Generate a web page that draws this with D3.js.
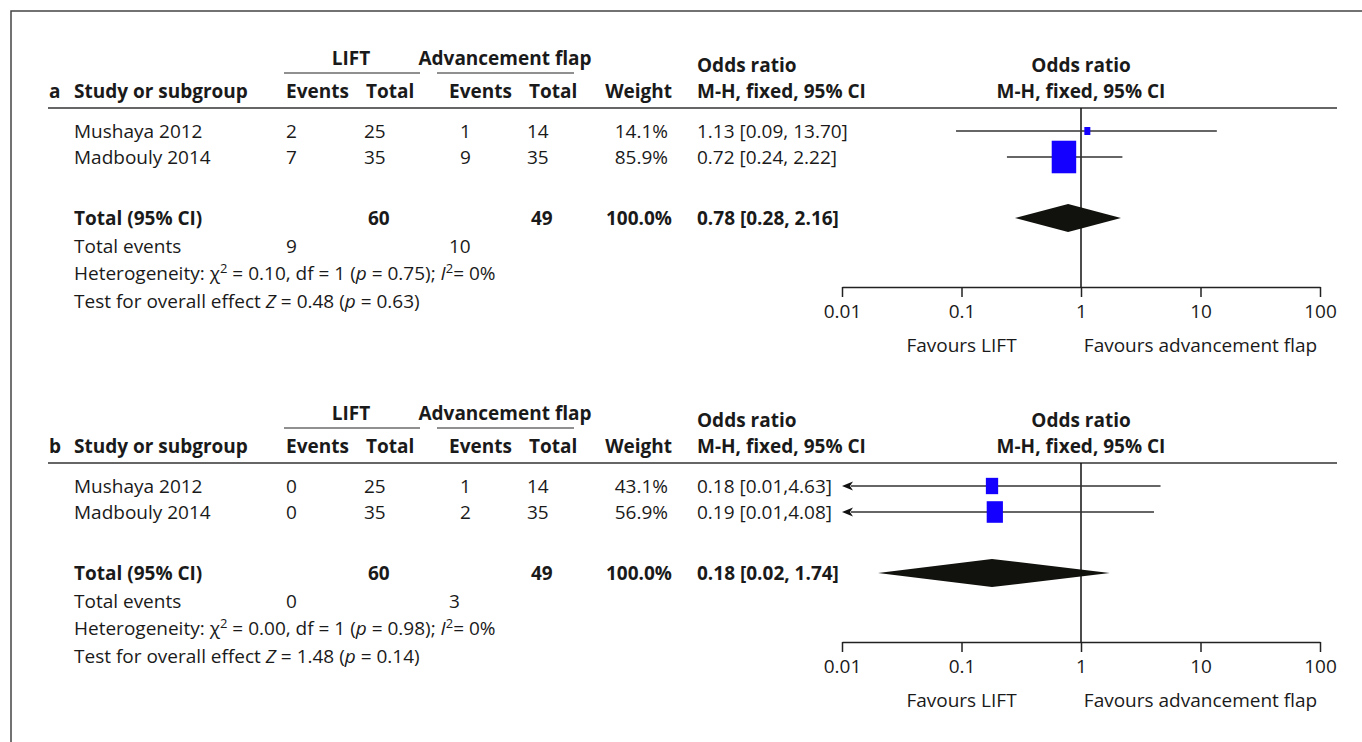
<!DOCTYPE html>
<html>
<head>
<meta charset="utf-8">
<script src="https://cdn.jsdelivr.net/npm/d3@7"></script>
<style>
  body { margin: 0; background: #fff; }
  svg { display: block; font-family: "Open Sans", sans-serif; }
  text { fill: #1a1a1a; }
</style>
</head>
<body>
<svg id="chart" width="1362" height="742"></svg>
<script>
// data
const panels = ["a", "b"];
const studies = ["Mushaya 2012", "Madbouly 2014"];

const liftEventsA = [2, 7];
const liftTotalA = [25, 35];
const flapEventsA = [1, 9];
const flapTotalA = [14, 35];
const weightA = [14.1, 85.9];
const orA = [1.13, 0.72];
const lowerA = [0.09, 0.24];
const upperA = [13.70, 2.22];
const ciLabelA = ["1.13 [0.09, 13.70]", "0.72 [0.24, 2.22]"];

const liftEventsB = [0, 0];
const liftTotalB = [25, 35];
const flapEventsB = [1, 2];
const flapTotalB = [14, 35];
const weightB = [43.1, 56.9];
const orB = [0.18, 0.19];
const lowerB = [0.01, 0.01];
const upperB = [4.63, 4.08];
const ciLabelB = ["0.18 [0.01,4.63]", "0.19 [0.01,4.08]"];

const totalLift = [60, 60];
const totalFlap = [49, 49];
const totalOR = [0.78, 0.18];
const totalLower = [0.28, 0.02];
const totalUpper = [2.16, 1.74];
const totalLabel = ["0.78 [0.28, 2.16]", "0.18 [0.02, 1.74]"];
const totalEventsLift = [9, 0];
const totalEventsFlap = [10, 3];
const chi2 = ["0.10", "0.00"];
const hetP = ["0.75", "0.98"];
const zValue = ["0.48", "1.48"];
const zP = ["0.63", "0.14"];

const axisTicks = [0.01, 0.1, 1, 10, 100];

const svg = d3.select("#chart");
const FS = 19;

// frame
svg.append("path")
  .attr("d", "M11,742 V11 H1362")
  .attr("fill", "none")
  .attr("stroke", "#444")
  .attr("stroke-width", 1.5);

const x = d3.scaleLog().domain([0.01, 100]).range([842, 1320]);
const boxW = d3.scaleLinear().domain([0, 100]).range([0, 28.5]);

const panelData = [
  { liftEv: liftEventsA, liftTot: liftTotalA, flapEv: flapEventsA, flapTot: flapTotalA,
    weight: weightA, or: orA, lo: lowerA, hi: upperA, label: ciLabelA },
  { liftEv: liftEventsB, liftTot: liftTotalB, flapEv: flapEventsB, flapTot: flapTotalB,
    weight: weightB, or: orB, lo: lowerB, hi: upperB, label: ciLabelB }
];

function txt(g, s, tx, ty, opts) {
  opts = opts || {};
  return g.append("text")
    .attr("x", tx).attr("y", ty)
    .attr("dy", "0.35em")
    .attr("font-size", opts.size || FS)
    .attr("font-weight", opts.bold ? "bold" : null)
    .attr("text-anchor", opts.anchor || "start")
    .text(s);
}

// superscript helper, shifts in px so the baseline comes back exactly
function sup(t, s) {
  t.append("tspan").attr("font-size", 13).attr("dy", -7).text(s);
  return t.append("tspan").attr("dy", 7);
}

panels.forEach((letter, pi) => {
  const d = panelData[pi];
  const g = svg.append("g").attr("transform", `translate(0,${pi * 355})`);

  // header
  txt(g, "LIFT", 351, 58, { bold: true, anchor: "middle" });
  txt(g, "Advancement flap", 505, 58, { bold: true, anchor: "middle" });
  g.append("line").attr("x1", 284).attr("x2", 420).attr("y1", 73).attr("y2", 73)
    .attr("stroke", "#222").attr("stroke-width", 1.2);
  g.append("line").attr("x1", 437).attr("x2", 574).attr("y1", 73).attr("y2", 73)
    .attr("stroke", "#222").attr("stroke-width", 1.2);
  txt(g, letter, 49, 91, { bold: true });
  txt(g, "Study or subgroup", 74, 91, { bold: true });
  txt(g, "Events", 286, 91, { bold: true });
  txt(g, "Total", 366, 91, { bold: true });
  txt(g, "Events", 449, 91, { bold: true });
  txt(g, "Total", 529, 91, { bold: true });
  txt(g, "Weight", 672, 91, { bold: true, anchor: "end" });
  txt(g, "Odds ratio", 697, 65.5, { bold: true });
  txt(g, "M-H, fixed, 95% CI", 697, 91.5, { bold: true });
  txt(g, "Odds ratio", x(1), 65.5, { bold: true, anchor: "middle" });
  txt(g, "M-H, fixed, 95% CI", x(1), 91.5, { bold: true, anchor: "middle" });
  g.append("line").attr("x1", 48).attr("x2", 1337).attr("y1", 108).attr("y2", 108)
    .attr("stroke", "#333").attr("stroke-width", 1.5);

  // study rows
  const rowY = d3.scalePoint().domain(studies).range([131, 157]);
  studies.forEach((s, i) => {
    const y = rowY(s);
    txt(g, s, 74, y);
    txt(g, d.liftEv[i], 286, y);
    txt(g, d.liftTot[i], 364, y);
    txt(g, d.flapEv[i], 460, y);
    txt(g, d.flapTot[i], 527, y);
    txt(g, d.weight[i].toFixed(1) + "%", 668, y, { anchor: "end" });
    txt(g, d.label[i], 697, y);
  });

  // totals and stats
  txt(g, "Total (95% CI)", 74, 218, { bold: true });
  txt(g, totalLift[pi], 368, 218, { bold: true });
  txt(g, totalFlap[pi], 531, 218, { bold: true });
  txt(g, "100.0%", 672, 218, { bold: true, anchor: "end" });
  txt(g, totalLabel[pi], 697, 218, { bold: true });
  txt(g, "Total events", 74, 246);
  txt(g, totalEventsLift[pi], 286, 246);
  txt(g, totalEventsFlap[pi], 449, 246);

  const het = txt(g, "", 74, 273);
  het.append("tspan").text("Heterogeneity: \u03c7");
  sup(het, "2").text(` = ${chi2[pi]}, df = 1 (`);
  het.append("tspan").attr("font-style", "italic").text("p");
  het.append("tspan").text(` = ${hetP[pi]}); `);
  het.append("tspan").attr("font-style", "italic").text("I");
  sup(het, "2").text("= 0%");

  const test = txt(g, "", 74, 301);
  test.append("tspan").text("Test for overall effect ");
  test.append("tspan").attr("font-style", "italic").text("Z");
  test.append("tspan").text(` = ${zValue[pi]} (`);
  test.append("tspan").attr("font-style", "italic").text("p");
  test.append("tspan").text(` = ${zP[pi]})`);

  // forest plot
  const axisY = 287;
  g.append("line").attr("x1", x(1)).attr("x2", x(1)).attr("y1", 108).attr("y2", axisY)
    .attr("stroke", "#111").attr("stroke-width", 1.5);

  studies.forEach((s, i) => {
    const y = rowY(s);
    const clipped = d.lo[i] <= x.domain()[0];
    const xl = clipped ? x(x.domain()[0]) + 9 : x(d.lo[i]);
    g.append("line").attr("x1", xl).attr("x2", x(d.hi[i])).attr("y1", y).attr("y2", y)
      .attr("stroke", "#333").attr("stroke-width", 1.4);
    if (clipped) {
      const ax = x(x.domain()[0]);
      g.append("path")
        .attr("d", `M${ax},${y} L${ax + 11},${y - 4.5} L${ax + 8},${y} L${ax + 11},${y + 4.5} Z`)
        .attr("fill", "#111");
    }
    const w = Math.max(6, boxW(d.weight[i]));
    const h = Math.max(7, w * 1.33);
    g.append("rect")
      .attr("x", x(d.or[i]) - w / 2).attr("y", y - h / 2)
      .attr("width", w).attr("height", h)
      .attr("fill", "#1400ff");
  });

  const ty = 218, dh = 14;
  g.append("path")
    .attr("d", `M${x(totalLower[pi])},${ty} L${x(totalOR[pi])},${ty - dh} L${x(totalUpper[pi])},${ty} L${x(totalOR[pi])},${ty + dh} Z`)
    .attr("fill", "#11110d");

  const axis = d3.axisBottom(x)
    .tickValues(axisTicks)
    .tickFormat(d3.format("~g"))
    .tickSize(10)
    .tickSizeOuter(0)
    .tickPadding(8);
  const ag = g.append("g").attr("transform", `translate(0,${axisY})`).call(axis);
  ag.select(".domain").attr("stroke", "#222").attr("stroke-width", 1.5);
  ag.selectAll(".tick line").attr("stroke", "#222").attr("stroke-width", 1.5);
  ag.selectAll(".tick text").attr("font-size", FS).attr("font-family", "Open Sans, sans-serif")
    .attr("fill", "#1a1a1a");

  txt(g, "Favours LIFT", x(0.1), 345, { anchor: "middle" });
  txt(g, "Favours advancement flap", x(10), 345, { anchor: "middle" });
});
</script>
</body>
</html>
